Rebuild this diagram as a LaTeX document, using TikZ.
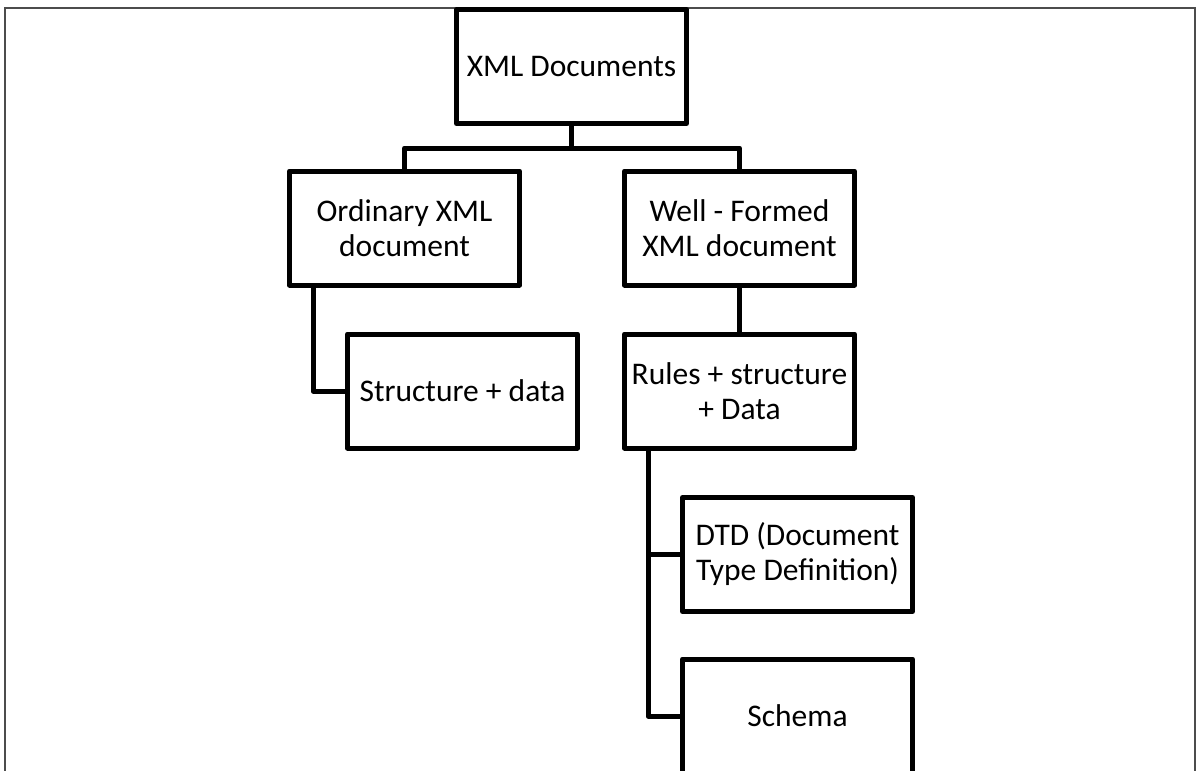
\documentclass[tikz,border=0pt]{standalone}
\usepackage{fontspec}
\setmainfont{Carlito}
\begin{document}
\begin{tikzpicture}[x=1pt,y=-1pt,
  box/.style={draw=black, line width=5pt, fill=white, rectangle,
    minimum width=230pt, minimum height=114pt, inner sep=0pt,
    align=center, font=\fontsize{31.5}{35}\selectfont, line join=round},
  conn/.style={draw=black, line width=5pt, line join=round}]
\useasboundingbox (0,0) rectangle (1200,771);
\draw[black!70, line width=1.5pt] (5,800) -- (5,8) -- (1195,8) -- (1195,800);
\node[box] (top)    at (571.5,66.5) {XML Documents};
\node[box] (ord)    at (404.5,228)  {Ordinary XML\\document};
\node[box] (well)   at (739.5,228)  {Well - Formed\\XML document};
\node[box] (struct) at (462.5,391)  {Structure + data};
\node[box] (rules)  at (739.5,391)  {Rules + structure\\+ Data};
\node[box] (dtd)    at (797.5,554.5){DTD (Document\\Type Definition)};
\node[box] (schema) at (797.5,716)  {Schema};
\coordinate (j) at (571.5,148);
\draw[conn] (top.south) -- (j);
\draw[conn] (ord.north) |- (j) -| (well.north);
\draw[conn] ([xshift=-91.5pt]ord.south) |- (struct.west);
\draw[conn] (well.south) -- (rules.north);
\draw[conn] ([xshift=-91.5pt]rules.south) |- (dtd.west);
\draw[conn] ([xshift=-91.5pt]rules.south) |- (schema.west);
\end{tikzpicture}
\end{document}
